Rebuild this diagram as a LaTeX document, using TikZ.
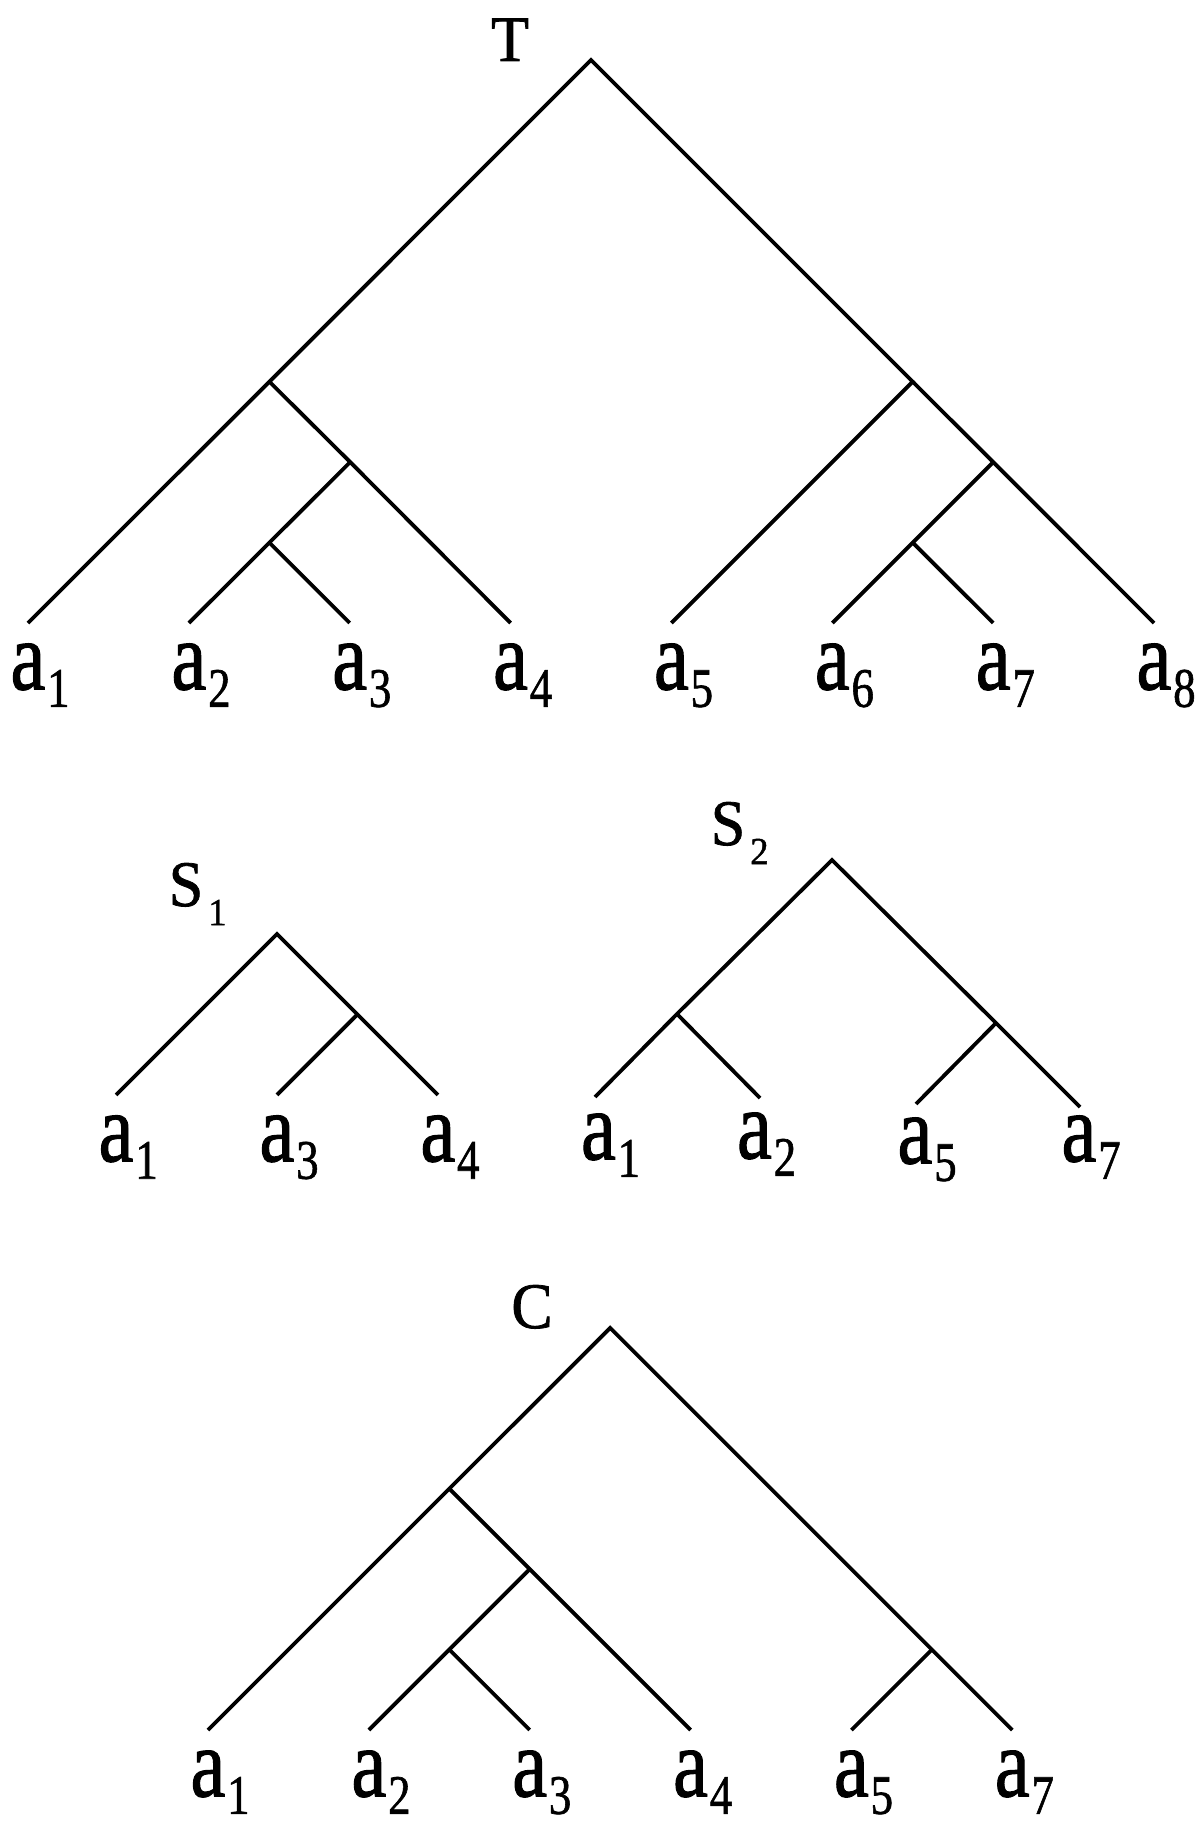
\documentclass[tikz,border=0pt]{standalone}
\usepackage{fontspec}
\usepackage{graphicx}
\setmainfont{Liberation Serif}
\newfontfamily\treefont[FakeBold=1.2]{Liberation Serif}
\usetikzlibrary{positioning}
\tikzset{
  tree branch/.style={
    line width=1.35pt,
    draw=black,
  },
  taxon label/.style={
    inner sep=0pt,
    anchor=north,
    font=\treefont\fontsize{28}{32}\selectfont,
  },
  tree title/.style={
    inner sep=0pt,
    anchor=base,
    font=\treefont\fontsize{22}{26}\selectfont,
  },
}
\newcommand{\taxon}[1]{\scalebox{1}[1.24]{a\rlap{\kern0.6pt\raisebox{-5pt}{\fontsize{16}{18}\selectfont #1}}}}
\newcommand{\treename}[2]{\scalebox{1}[1.05]{#1\rlap{\kern1.8pt\raisebox{-6.5pt}{\fontsize{13}{15}\selectfont #2}}}}

\begin{document}
\begin{tikzpicture}[x=0.0125cm,y=-0.0125cm]
  \useasboundingbox (0,0) rectangle (1200,1825);

  % tree T
  \coordinate (tr) at (591,60);
  \coordinate (tl) at (269.4,381.7);
  \coordinate (tlr) at (350.2,462.1);
  \coordinate (tlrl) at (269.4,542.6);
  \coordinate (trr) at (912.7,381.7);
  \coordinate (trrr) at (993.2,462.1);
  \coordinate (trrl) at (912.7,542.6);
  \coordinate (ta1) at (28,623);
  \coordinate (ta2) at (188.9,623);
  \coordinate (ta3) at (349.7,623);
  \coordinate (ta4) at (510.6,623);
  \coordinate (ta5) at (671.4,623);
  \coordinate (ta6) at (832.3,623);
  \coordinate (ta7) at (993.2,623);
  \coordinate (ta8) at (1154,623);
  \node[tree title] (tname) at (510,61) {\treename{T}{}};

  \draw[tree branch] (ta1) -- (tl) -- (tr) -- (trr) -- (ta5);
  \draw[tree branch] (tl) -- (tlr) -- (ta4);
  \draw[tree branch] (tlr) -- (tlrl) -- (ta2);
  \draw[tree branch] (tlrl) -- (ta3);
  \draw[tree branch] (trr) -- (trrr) -- (ta8);
  \draw[tree branch] (trrr) -- (trrl) -- (ta6);
  \draw[tree branch] (trrl) -- (ta7);

  \node[taxon label, below=0.25cm of ta1] (lta1) {\taxon{1}};
  \node[taxon label, below=0.25cm of ta2] (lta2) {\taxon{2}};
  \node[taxon label, below=0.25cm of ta3] (lta3) {\taxon{3}};
  \node[taxon label, below=0.25cm of ta4] (lta4) {\taxon{4}};
  \node[taxon label, below=0.25cm of ta5] (lta5) {\taxon{5}};
  \node[taxon label, below=0.25cm of ta6] (lta6) {\taxon{6}};
  \node[taxon label, below=0.25cm of ta7] (lta7) {\taxon{7}};
  \node[taxon label, below=0.25cm of ta8] (lta8) {\taxon{8}};

  % tree S1
  \coordinate (ar) at (277,934);
  \coordinate (arr) at (357.4,1014.4);
  \coordinate (aa1) at (116.1,1094.9);
  \coordinate (aa3) at (277,1094.9);
  \coordinate (aa4) at (437.9,1094.9);
  \node[tree title] (aname) at (186,906) {\treename{S}{1}};

  \draw[tree branch] (aa1) -- (ar) -- (arr) -- (aa4);
  \draw[tree branch] (arr) -- (aa3);

  \node[taxon label, below=0.25cm of aa1] (laa1) {\taxon{1}};
  \node[taxon label, below=0.25cm of aa3] (laa3) {\taxon{3}};
  \node[taxon label, below=0.25cm of aa4] (laa4) {\taxon{4}};

  % tree S2
  \coordinate (br) at (832,860);
  \coordinate (bl) at (677,1014);
  \coordinate (brr) at (996,1023);
  \coordinate (ba1) at (595,1097);
  \coordinate (ba2) at (760,1098);
  \coordinate (ba5) at (916,1104);
  \coordinate (ba7) at (1080,1107);
  \node[tree title] (bname) at (728,845) {\treename{S}{2}};

  \draw[tree branch] (ba1) -- (bl) -- (br) -- (brr) -- (ba7);
  \draw[tree branch] (bl) -- (ba2);
  \draw[tree branch] (brr) -- (ba5);

  \node[taxon label] (lba1) at (598.5,1113) {\taxon{1}};
  \node[taxon label] (lba2) at (754.5,1112) {\taxon{2}};
  \node[taxon label] (lba5) at (915,1117) {\taxon{5}};
  \node[taxon label] (lba7) at (1079,1115) {\taxon{7}};

  % tree C
  \coordinate (cr) at (610.2,1327.9);
  \coordinate (cl) at (449.3,1488.7);
  \coordinate (clr) at (529.7,1569.1);
  \coordinate (clrl) at (449.3,1649.6);
  \coordinate (crr) at (931.9,1649.6);
  \coordinate (ca1) at (208,1730);
  \coordinate (ca2) at (368.9,1730);
  \coordinate (ca3) at (529.7,1730);
  \coordinate (ca4) at (690.6,1730);
  \coordinate (ca5) at (851.4,1730);
  \coordinate (ca7) at (1012.3,1730);
  \node[tree title] (cname) at (532,1328) {\treename{C}{}};

  \draw[tree branch] (ca1) -- (cl) -- (cr) -- (crr) -- (ca7);
  \draw[tree branch] (cl) -- (clr) -- (ca4);
  \draw[tree branch] (clr) -- (clrl) -- (ca2);
  \draw[tree branch] (clrl) -- (ca3);
  \draw[tree branch] (crr) -- (ca5);

  \node[taxon label, below=0.25cm of ca1] (lca1) {\taxon{1}};
  \node[taxon label, below=0.25cm of ca2] (lca2) {\taxon{2}};
  \node[taxon label, below=0.25cm of ca3] (lca3) {\taxon{3}};
  \node[taxon label, below=0.25cm of ca4] (lca4) {\taxon{4}};
  \node[taxon label, below=0.25cm of ca5] (lca5) {\taxon{5}};
  \node[taxon label, below=0.25cm of ca7] (lca7) {\taxon{7}};
\end{tikzpicture}
\end{document}
